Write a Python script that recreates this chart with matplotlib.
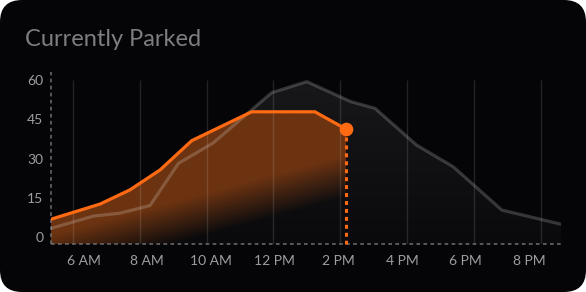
import numpy as np
import matplotlib
matplotlib.use("Agg")
import matplotlib.pyplot as plt
from matplotlib.patches import FancyBboxPatch
from matplotlib.transforms import IdentityTransform

# ---------------- data ----------------
title = "Currently Parked"
today_hours = [5.35, 6.82, 7.71, 8.61, 9.56, 11.35, 13.24, 14.17]
today_values = [6.9, 12.7, 18.1, 25.7, 36.9, 47.9, 47.9, 41.3]
typical_hours = [5.35, 6.62, 7.41, 8.31, 9.16, 10.2, 11.95, 13.0, 14.31, 15.04,
                 16.28, 17.38, 18.83, 20.6]
typical_values = [3.4, 8.1, 9.2, 12.1, 28.2, 36.0, 55.2, 59.4, 51.8, 49.2,
                  35.2, 26.9, 10.4, 5.0]
grid_hours = [6, 8, 10, 12, 14, 16, 18, 20]
x_labels = ["6 AM", "8 AM", "10 AM", "12 PM", "2 PM", "4 PM", "6 PM", "8 PM"]
y_ticks = [0, 15, 30, 45, 60]

# ---------------- style ----------------
plt.rcParams['font.family'] = ['Lato', 'DejaVu Sans']
BG = "#050507"
ORANGE = "#ff6a13"
TXT = "#9e9ea2"

W, H = 586, 292
fig = plt.figure(figsize=(W / 100, H / 100), dpi=100, facecolor="white")
card = FancyBboxPatch((0, 0), W, H, boxstyle="round,pad=0,rounding_size=22",
                      transform=IdentityTransform(), facecolor=BG,
                      edgecolor="none", zorder=-10)
fig.patches.append(card)

fig.text(25 / W, 1 - 40 / H, title, color="#7e7e82", fontsize=17,
         fontweight="normal", va="center", ha="left")

ax = fig.add_axes([51 / W, 48 / H, 510 / W, 172.3 / H])
ax.set_facecolor("none")
for s in ax.spines.values():
    s.set_visible(False)

xmin, xmax = 5.35, 20.6
ymin, ymax = -2.56, 63.2
ax.set_xlim(xmin, xmax)
ax.set_ylim(ymin, ymax)

# gray area with vertical gradient
gpoly = ax.fill_between(typical_hours, typical_values, ymin,
                        facecolor="none", edgecolor="none")
ny, nx = 240, 600
vv = np.linspace(ymin, ymax, ny)[:, None]
hh = np.linspace(xmin, xmax, nx)[None, :]
t = np.clip((vv - ymin) / (60 - ymin), 0, 1)
top = np.array([24, 24, 27]) / 255
bot = np.array([10, 10, 12]) / 255
gimg = np.zeros((ny, nx, 4))
for k in range(3):
    gimg[..., k] = bot[k] + (top[k] - bot[k]) * t
gimg[..., 3] = 1.0
im1 = ax.imshow(gimg, extent=[xmin, xmax, ymin, ymax], origin="lower",
                aspect="auto", zorder=1, interpolation="bilinear")
im1.set_clip_path(gpoly.get_paths()[0], ax.transData)

# orange area with diagonal fade
opoly = ax.fill_between(today_hours, today_values, ymin,
                        facecolor="none", edgecolor="none")
xpx = 72.7 + (hh - 6) * 33.45
ypx = 237.3 - vv * 2.62
yline = 238 - 0.27 * (xpx - 120)
alpha = np.clip(0.5 + (yline - ypx) / 42.0, 0, 1)
oimg = np.zeros((ny, nx, 4))
oc = np.array([108, 51, 17]) / 255
for k in range(3):
    oimg[..., k] = oc[k]
oimg[..., 3] = alpha * np.ones_like(xpx)
im2 = ax.imshow(oimg, extent=[xmin, xmax, ymin, ymax], origin="lower",
                aspect="auto", zorder=2, interpolation="bilinear")
im2.set_clip_path(opoly.get_paths()[0], ax.transData)

# grid lines
ax.vlines(grid_hours, ymin, 60, colors="white", alpha=0.12, lw=1, zorder=3)

# typical line
ax.plot(typical_hours, typical_values, color="white", alpha=0.19, lw=2.3,
        solid_joinstyle="round", zorder=4)

# today line
ax.plot(today_hours, today_values, color=ORANGE, lw=2.3,
        solid_joinstyle="round", zorder=6)
ax.plot([today_hours[-1], today_hours[-1]], [today_values[-1], ymin],
        color=ORANGE, lw=2.2, linestyle=(0, (1.3, 1.3)), zorder=5,
        clip_on=False)
ax.plot([today_hours[-1]], [today_values[-1]], "o", color=ORANGE,
        markersize=8.8, zorder=7, clip_on=False)

# dashed axes
ax.plot([xmin, xmin], [ymin, ymax], color="#707074", lw=1.1,
        linestyle=(0, (2.4, 2.2)), clip_on=False, zorder=3)
ax.plot([xmin, xmax], [ymin, ymin], color="#707074", lw=1.1,
        linestyle=(0, (2.4, 2.2)), clip_on=False, zorder=3)

# ticks
ax.set_yticks(y_ticks)
ax.set_yticklabels([str(v) for v in y_ticks])
ax.tick_params(axis="y", length=0, pad=5.5, labelcolor=TXT, labelsize=10)
label_pos = np.linspace(6.32, 19.66, len(x_labels))
ax.set_xticks(label_pos)
ax.set_xticklabels(x_labels)
ax.tick_params(axis="x", length=0, pad=8, labelcolor=TXT, labelsize=10)

fig.savefig("out.png", dpi=100, facecolor="white")
